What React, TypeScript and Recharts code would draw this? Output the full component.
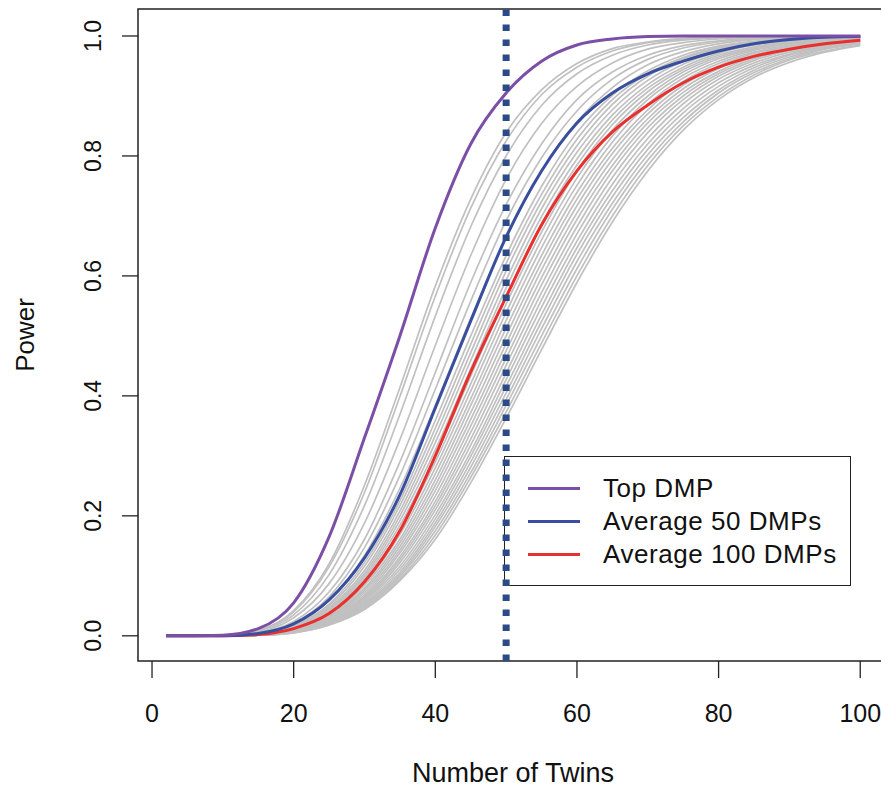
import React from 'react';
import { LineChart, Line, XAxis, YAxis, ReferenceLine, ReferenceArea } from 'recharts';

// number of twins at which each curve was read
const xs = [2, 10, 15, 20, 25, 30, 35, 40, 45, 50, 55, 60, 65, 70, 75, 80, 85, 90, 95, 100];

const topDmp = [0, 0.001, 0.012, 0.055, 0.165, 0.33, 0.5, 0.68, 0.82, 0.905, 0.958, 0.985, 0.995, 0.999, 1, 1, 1, 1, 1, 1];
const avg50 = [0, 0, 0.004, 0.02, 0.06, 0.13, 0.235, 0.38, 0.525, 0.665, 0.775, 0.855, 0.905, 0.937, 0.958, 0.975, 0.987, 0.994, 0.998, 0.999];
const avg100 = [0, 0, 0.002, 0.012, 0.037, 0.09, 0.175, 0.3, 0.44, 0.565, 0.685, 0.775, 0.84, 0.885, 0.922, 0.948, 0.966, 0.978, 0.987, 0.993];

// individual DMP curves (grey)
const grayCurves = [
  [0, 0.001, 0.009, 0.042, 0.12, 0.251, 0.414, 0.583, 0.728, 0.839, 0.91, 0.954, 0.979, 0.99, 0.996, 0.998, 0.999, 1, 1, 1],
  [0, 0.001, 0.009, 0.04, 0.115, 0.239, 0.399, 0.566, 0.713, 0.825, 0.902, 0.948, 0.975, 0.989, 0.995, 0.998, 0.999, 1, 1, 1],
  [0, 0, 0.008, 0.035, 0.102, 0.217, 0.369, 0.533, 0.682, 0.8, 0.884, 0.937, 0.968, 0.985, 0.993, 0.997, 0.999, 1, 1, 1],
  [0, 0, 0.006, 0.03, 0.087, 0.188, 0.327, 0.484, 0.634, 0.761, 0.854, 0.916, 0.955, 0.978, 0.989, 0.995, 0.998, 0.999, 1, 1],
  [0, 0, 0.005, 0.024, 0.073, 0.161, 0.29, 0.439, 0.589, 0.719, 0.82, 0.894, 0.94, 0.968, 0.984, 0.992, 0.997, 0.998, 0.999, 1],
  [0, 0, 0.004, 0.021, 0.065, 0.147, 0.267, 0.411, 0.558, 0.692, 0.797, 0.875, 0.928, 0.961, 0.98, 0.99, 0.995, 0.998, 0.999, 1],
  [0, 0, 0.004, 0.019, 0.059, 0.134, 0.246, 0.384, 0.529, 0.663, 0.775, 0.857, 0.914, 0.952, 0.974, 0.987, 0.994, 0.997, 0.999, 1],
  [0, 0, 0.003, 0.017, 0.053, 0.122, 0.225, 0.359, 0.5, 0.634, 0.749, 0.839, 0.901, 0.942, 0.968, 0.983, 0.991, 0.996, 0.998, 0.999],
  [0, 0, 0.003, 0.016, 0.05, 0.116, 0.217, 0.346, 0.486, 0.621, 0.736, 0.828, 0.894, 0.937, 0.964, 0.981, 0.99, 0.995, 0.998, 0.999],
  [0, 0, 0.003, 0.015, 0.047, 0.109, 0.208, 0.334, 0.472, 0.608, 0.724, 0.817, 0.886, 0.933, 0.962, 0.979, 0.989, 0.995, 0.997, 0.999],
  [0, 0, 0.003, 0.014, 0.045, 0.104, 0.2, 0.322, 0.459, 0.593, 0.712, 0.806, 0.877, 0.926, 0.958, 0.977, 0.988, 0.994, 0.997, 0.999],
  [0, 0, 0.003, 0.013, 0.042, 0.1, 0.192, 0.31, 0.445, 0.58, 0.699, 0.795, 0.868, 0.919, 0.953, 0.974, 0.986, 0.993, 0.996, 0.998],
  [0, 0, 0.002, 0.012, 0.04, 0.096, 0.184, 0.3, 0.433, 0.566, 0.687, 0.785, 0.86, 0.913, 0.948, 0.971, 0.985, 0.992, 0.996, 0.998],
  [0, 0, 0.002, 0.012, 0.038, 0.092, 0.176, 0.29, 0.42, 0.553, 0.673, 0.775, 0.852, 0.907, 0.944, 0.968, 0.982, 0.991, 0.995, 0.998],
  [0, 0, 0.002, 0.011, 0.036, 0.087, 0.169, 0.28, 0.408, 0.539, 0.66, 0.763, 0.843, 0.9, 0.94, 0.965, 0.98, 0.99, 0.995, 0.997],
  [0, 0, 0.002, 0.011, 0.035, 0.084, 0.161, 0.27, 0.395, 0.526, 0.647, 0.751, 0.833, 0.894, 0.935, 0.962, 0.978, 0.988, 0.994, 0.997],
  [0, 0, 0.002, 0.01, 0.033, 0.079, 0.155, 0.26, 0.384, 0.513, 0.634, 0.739, 0.823, 0.886, 0.93, 0.958, 0.976, 0.987, 0.993, 0.996],
  [0, 0, 0.002, 0.009, 0.031, 0.076, 0.149, 0.251, 0.372, 0.5, 0.622, 0.728, 0.813, 0.877, 0.924, 0.954, 0.973, 0.985, 0.992, 0.996],
  [0, 0, 0.002, 0.009, 0.03, 0.072, 0.143, 0.242, 0.361, 0.487, 0.61, 0.717, 0.804, 0.87, 0.918, 0.95, 0.971, 0.983, 0.991, 0.995],
  [0, 0, 0.002, 0.009, 0.029, 0.068, 0.138, 0.233, 0.35, 0.475, 0.597, 0.705, 0.794, 0.862, 0.912, 0.946, 0.968, 0.982, 0.99, 0.995],
  [0, 0, 0.002, 0.008, 0.027, 0.065, 0.132, 0.224, 0.339, 0.463, 0.585, 0.694, 0.784, 0.855, 0.906, 0.941, 0.965, 0.98, 0.989, 0.994],
  [0, 0, 0.002, 0.008, 0.025, 0.063, 0.127, 0.217, 0.328, 0.451, 0.572, 0.682, 0.775, 0.847, 0.9, 0.937, 0.962, 0.978, 0.988, 0.993],
  [0, 0, 0.001, 0.007, 0.024, 0.06, 0.122, 0.21, 0.318, 0.438, 0.56, 0.67, 0.764, 0.839, 0.894, 0.933, 0.959, 0.976, 0.986, 0.992],
  [0, 0, 0.001, 0.007, 0.023, 0.058, 0.116, 0.202, 0.307, 0.427, 0.548, 0.658, 0.753, 0.829, 0.887, 0.928, 0.955, 0.973, 0.984, 0.991],
  [0, 0, 0.001, 0.006, 0.022, 0.055, 0.111, 0.195, 0.299, 0.416, 0.535, 0.647, 0.742, 0.82, 0.879, 0.922, 0.951, 0.97, 0.983, 0.99],
  [0, 0, 0.001, 0.006, 0.021, 0.053, 0.106, 0.188, 0.29, 0.405, 0.524, 0.636, 0.732, 0.811, 0.872, 0.916, 0.947, 0.968, 0.981, 0.989],
  [0, 0, 0.001, 0.006, 0.02, 0.051, 0.102, 0.182, 0.281, 0.394, 0.512, 0.624, 0.721, 0.802, 0.864, 0.91, 0.943, 0.965, 0.979, 0.988],
  [0, 0, 0.001, 0.006, 0.019, 0.048, 0.099, 0.175, 0.272, 0.384, 0.5, 0.612, 0.711, 0.793, 0.857, 0.905, 0.939, 0.962, 0.978, 0.987],
  [0, 0, 0.001, 0.005, 0.018, 0.046, 0.095, 0.168, 0.264, 0.373, 0.488, 0.6, 0.7, 0.784, 0.85, 0.899, 0.935, 0.96, 0.975, 0.985],
  [0, 0, 0.001, 0.005, 0.018, 0.044, 0.092, 0.161, 0.255, 0.363, 0.477, 0.589, 0.69, 0.775, 0.843, 0.894, 0.931, 0.956, 0.973, 0.984],
];

const xTicks = [0, 20, 40, 60, 80, 100];
const yTicks = [0, 0.2, 0.4, 0.6, 0.8, 1.0];
const cutoff = 50;

const legendItems = [
  { label: 'Top DMP', color: '#7b4fa6' },
  { label: 'Average 50 DMPs', color: '#3a4ea0' },
  { label: 'Average 100 DMPs', color: '#e8302e' },
];

const FONT = '"Liberation Sans", Arial, Helvetica, sans-serif';
const X_DOMAIN: [number, number] = [-1.98, 103.92];
const Y_DOMAIN: [number, number] = [-0.042, 1.045];

const rows = xs.map((x, i) => {
  const row: Record<string, number> = { x, top: topDmp[i], avg50: avg50[i], avg100: avg100[i] };
  grayCurves.forEach((c, j) => {
    row[`g${j}`] = c[i];
  });
  return row;
});

const XTick = (props: any) => (
  <text x={props.x} y={722} textAnchor="middle" fontSize={25} fontFamily={FONT} fill="#111">
    {props.payload.value}
  </text>
);

const YTick = (props: any) => (
  <text
    x={0}
    y={0}
    transform={`translate(93, ${props.y}) rotate(-90)`}
    dy="0.36em"
    textAnchor="middle"
    fontSize={23}
    fontFamily={FONT}
    fill="#111"
  >
    {Number(props.payload.value).toFixed(1)}
  </text>
);

export default function App() {
  return (
    <div style={{ position: 'absolute', left: 0, top: 0, width: 881, height: 787, overflow: 'hidden', background: '#fff' }}>
      {/* legend (under the chart so the dotted line runs over its border) */}
      <div
        style={{
          position: 'absolute',
          left: 504,
          top: 456,
          width: 347,
          height: 130,
          border: '1.5px solid #222',
          boxSizing: 'border-box',
        }}
      >
        {legendItems.map((item, i) => (
          <div
            key={item.label}
            style={{ position: 'absolute', left: 0, top: 15 + i * 33, height: 33, display: 'flex', alignItems: 'center' }}
          >
            <span style={{ display: 'inline-block', marginLeft: 23, width: 52, height: 3.5, background: item.color }} />
            <span
              style={{
                marginLeft: 23,
                fontFamily: FONT,
                fontSize: 26,
                letterSpacing: 0.55,
                color: '#111',
                whiteSpace: 'nowrap',
              }}
            >
              {item.label}
            </span>
          </div>
        ))}
      </div>

      <div style={{ position: 'absolute', left: 0, top: 0 }}>
        <LineChart width={890} height={787} data={rows} margin={{ top: 9, right: 2, bottom: 0, left: 0 }}>
          <XAxis
            type="number"
            dataKey="x"
            domain={X_DOMAIN}
            ticks={xTicks}
            allowDataOverflow
            height={126}
            tickSize={17}
            axisLine={false}
            tickLine={{ stroke: '#222', strokeWidth: 1.3 }}
            tick={<XTick />}
          />
          <YAxis
            type="number"
            domain={Y_DOMAIN}
            ticks={yTicks}
            allowDataOverflow
            width={138}
            tickSize={16}
            axisLine={false}
            tickLine={{ stroke: '#222', strokeWidth: 1.3 }}
            tick={<YTick />}
          />
          {grayCurves.map((_, j) => (
            <Line
              key={j}
              type="monotone"
              dataKey={`g${j}`}
              stroke="#c0c0c0"
              strokeWidth={1.7}
              dot={false}
              activeDot={false}
              isAnimationActive={false}
            />
          ))}
          <Line type="monotone" dataKey="avg100" stroke="#e8302e" strokeWidth={3} dot={false} isAnimationActive={false} />
          <Line type="monotone" dataKey="avg50" stroke="#3a4ea0" strokeWidth={3} dot={false} isAnimationActive={false} />
          <Line type="monotone" dataKey="top" stroke="#7b4fa6" strokeWidth={3} dot={false} isAnimationActive={false} />
          <ReferenceArea
            x1={X_DOMAIN[0]}
            x2={X_DOMAIN[1]}
            y1={Y_DOMAIN[0]}
            y2={Y_DOMAIN[1]}
            fill="none"
            stroke="#222"
            strokeWidth={1.5}
            ifOverflow="visible"
          />
          <ReferenceLine x={cutoff} stroke="#2c4a85" strokeWidth={7} strokeDasharray="6.5 8.5" />
        </LineChart>
      </div>

      {/* axis titles */}
      <div
        style={{
          position: 'absolute',
          left: 0,
          top: 758,
          width: 1026,
          textAlign: 'center',
          fontFamily: FONT,
          fontSize: 27,
          color: '#111',
          lineHeight: '30px',
        }}
      >
        Number of Twins
      </div>
      <div
        style={{
          position: 'absolute',
          left: 25,
          top: 335,
          transform: 'translate(-50%, -50%) rotate(-90deg)',
          fontFamily: FONT,
          fontSize: 26,
          color: '#111',
          whiteSpace: 'nowrap',
        }}
      >
        Power
      </div>
    </div>
  );
}
